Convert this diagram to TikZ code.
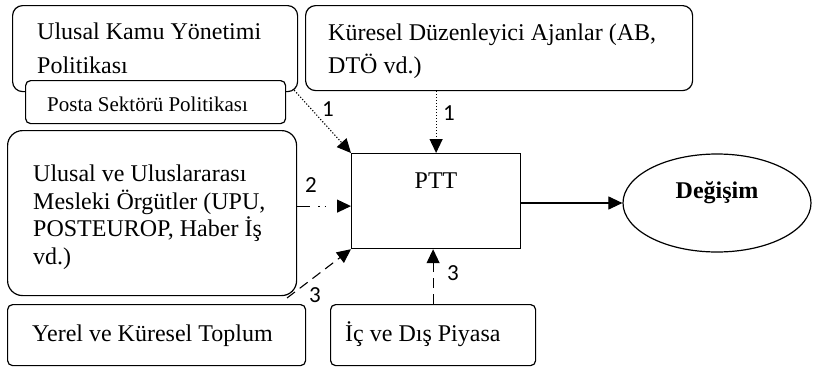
\documentclass[tikz,border=0pt]{standalone}
\usepackage{fontspec}
\setmainfont{Liberation Serif}
\newfontfamily\numfont{Carlito}
\usetikzlibrary{arrows.meta,shapes.geometric,calc}
\begin{document}
\begin{tikzpicture}[x=1pt,y=-1pt,
  box/.style={draw,line width=1.2pt,fill=white,rounded corners=#1,anchor=north west,inner sep=0pt},
  txt/.style={inner sep=0pt,anchor=base west,font=\fontsize{24}{28}\selectfont},
  small/.style={inner sep=0pt,anchor=base west,font=\fontsize{21}{24}\selectfont},
  num/.style={inner sep=0pt,font=\numfont\fontsize{23}{26}\selectfont},
  arr/.style={line width=1.1pt,-{Triangle[length=14pt,width=13pt]}},
  dots/.style={dash pattern=on 1.2pt off 1.8pt},
  loosedots/.style={dash pattern=on 13pt off 8pt on 1.5pt off 5pt on 1.5pt off 30pt},
  dashes/.style={dash pattern=on 10pt off 6pt}]
\useasboundingbox (0,0) rectangle (813,367);
% boxes
\node[box=10pt,minimum width=285pt,minimum height=86pt] (A) at (12,5) {};
\node[box=5pt,minimum width=260pt,minimum height=43pt] (B) at (25,80) {};
\node[box=10pt,minimum width=387pt,minimum height=85pt] (C) at (305,5) {};
\node[box=15pt,minimum width=289pt,minimum height=165pt] (D) at (7,130) {};
\node[box=5pt,minimum width=298pt,minimum height=61pt] (E) at (7,304) {};
\node[box=5pt,minimum width=205pt,minimum height=61pt] (F) at (330,304) {};
\node[box=0pt,minimum width=169pt,minimum height=95pt] (P) at (351,153) {};
\node[draw,ellipse,line width=1.2pt,inner sep=0pt,minimum width=188pt,minimum height=98pt] (G) at (717,203) {};
% texts
\node[txt] (a1) at (37,39) {Ulusal Kamu Yönetimi};
\node[txt] (a2) at (37,73) {Politikası};
\node[small] (b1) at (47,111) {Posta Sektörü Politikası};
\node[txt] (c1) at (328,40) {Küresel Düzenleyici Ajanlar (AB,};
\node[txt] (c2) at (328,73) {DTÖ vd.)};
\node[txt] (d1) at (33,181) {Ulusal ve Uluslararası};
\node[txt] (d2) at (33,209) {Mesleki Örgütler (UPU,};
\node[txt] (d3) at (33,236) {POSTEUROP, Haber İş};
\node[txt] (d4) at (33,264) {vd.)};
\node[txt] (e1) at (32,341) {Yerel ve Küresel Toplum};
\node[txt] (f1) at (345,341) {İç ve Dış Piyasa};
\node[txt,anchor=base] (p1) at (436,188) {PTT};
\node[txt,anchor=base,font=\fontsize{24}{28}\selectfont\bfseries] (g1) at (717,198) {Değişim};
% connector end points
\coordinate (sA) at ($(A.south east)+(-4,-2)$);
\coordinate (s3) at (287,298);
\coordinate (t2) at ($(P.west)+(0,5)$);
\coordinate (t3) at ($(P.south)+(-3,0)$);
% connectors
\draw[arr,dots] (sA) -- (P.north west);
\draw[arr,dots] (P.north |- C.south) -- (P.north);
\draw[arr,loosedots] (D.east |- t2) -- (t2);
\draw[arr,dashes] (s3) -- (P.south west);
\draw[arr,dashes] (t3 |- F.north) -- (t3);
\draw[arr] (P.east |- G.west) -- (G.west);
% labels
\node[num] (n1) at (328,109) {1};
\node[num] (n2) at (449,113) {1};
\node[num] (n3) at (311,185) {2};
\node[num] (n4) at (315,295) {3};
\node[num] (n5) at (453,273) {3};
\end{tikzpicture}
\end{document}
